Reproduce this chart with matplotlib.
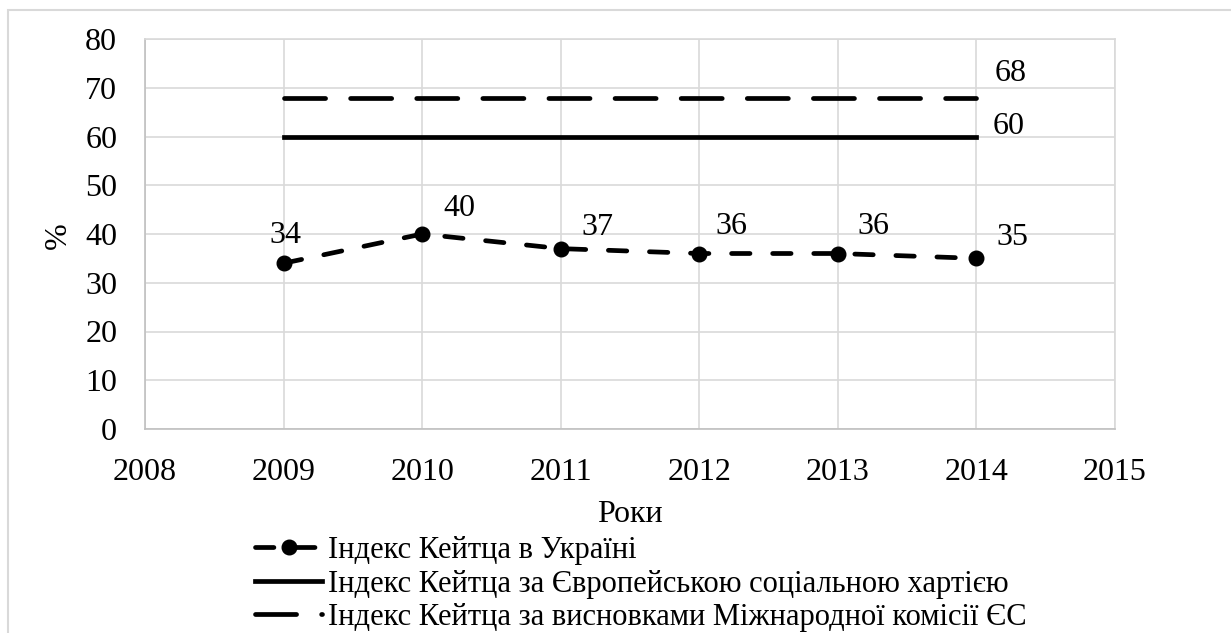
import matplotlib.pyplot as plt
from matplotlib.patches import Rectangle

# дані
years = [2009, 2010, 2011, 2012, 2013, 2014]
ukraine = [34, 40, 37, 36, 36, 35]
charter = [60, 60, 60, 60, 60, 60]
eu_commission = [68, 68, 68, 68, 68, 68]
labels = ['Індекс Кейтца в Україні',
          'Індекс Кейтца за Європейською соціальною хартією',
          'Індекс Кейтца за висновками Міжнародної комісії ЄС']
x_ticks = [2008, 2009, 2010, 2011, 2012, 2013, 2014, 2015]
y_ticks = [0, 10, 20, 30, 40, 50, 60, 70, 80]

plt.rcParams['font.family'] = ['Liberation Serif', 'DejaVu Serif']
FS = 23

W, H = 1231, 633
fig = plt.figure(figsize=(W / 100, H / 100), dpi=100)
ax = fig.add_axes([145 / W, 1 - 429 / H, 970 / W, 390 / H])

# рамка області діаграми
fig.patches.append(Rectangle((8 / W, -0.1), 1.2, 1 - 10 / H + 0.1,
                             transform=fig.transFigure, fill=False,
                             edgecolor='#d9d9d9', lw=1.5))

lw = 3.4
l1, = ax.plot(years, ukraine, color='black', lw=lw, ls=(0, (3.9, 4.8)),
              dash_capstyle='round', marker='o', ms=10.5)
l2, = ax.plot(years, charter, color='black', lw=lw, ls='solid')
l3, = ax.plot(years, eu_commission, color='black', lw=lw,
              ls=(0, (8.7, 5.3)), dash_capstyle='round')

# підписи значень
offsets = [(2, 28), (37, 26), (37, 21), (32, 27), (36, 27), (36, 21)]
for x, y, off in zip(years, ukraine, offsets):
    ax.annotate(str(y), (x, y), xytext=off, textcoords='offset pixels',
                ha='center', va='center', fontsize=FS)
ax.annotate(str(eu_commission[-1]), (years[-1], eu_commission[-1]),
            xytext=(34, 24), textcoords='offset pixels',
            ha='center', va='center', fontsize=FS)
ax.annotate(str(charter[-1]), (years[-1], charter[-1]),
            xytext=(32, 10), textcoords='offset pixels',
            ha='center', va='center', fontsize=FS)

ax.set_xlim(2008, 2015)
ax.set_ylim(0, 80)
ax.set_xticks(x_ticks)
ax.set_yticks(y_ticks)
ax.tick_params(length=0, labelsize=FS)
ax.tick_params(axis='y', pad=20)
ax.tick_params(axis='x', pad=21)
ax.grid(True, color='#d9d9d9', lw=1.2)
ax.set_axisbelow(True)
for s in ax.spines.values():
    s.set_color('#d9d9d9')
    s.set_linewidth(1.2)
ax.spines['bottom'].set_color('#c0c0c0')
ax.spines['left'].set_color('#c0c0c0')

ax.set_ylabel('%', fontsize=FS, rotation=90, ha='center', va='center')
ax.yaxis.set_label_coords((58 - 145) / 970, (429 - 236) / 390)
ax.set_xlabel('Роки', fontsize=FS, ha='center', va='center')
ax.xaxis.set_label_coords((630 - 145) / 970, (429 - 514) / 390)

fig.legend([l1, l2, l3], labels, loc='upper left',
           bbox_to_anchor=(255 / W, 1 - 536 / H), frameon=False,
           fontsize=22, handlelength=2.2, handletextpad=0.2,
           labelspacing=0.15, borderpad=0, borderaxespad=0, numpoints=1)

fig.savefig('out.png', dpi=100)
